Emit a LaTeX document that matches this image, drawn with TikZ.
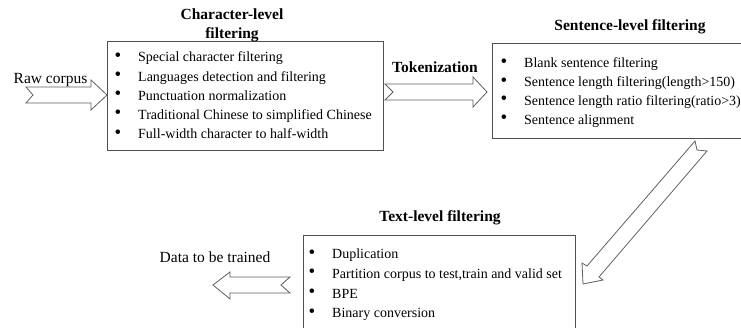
\documentclass[tikz,border=0pt]{standalone}
\usepackage{fontspec}
\setmainfont{Liberation Serif}
\definecolor{boxgray}{HTML}{505050}
\definecolor{arrowgray}{HTML}{606060}
\begin{document}
\begin{tikzpicture}[x=1pt,y=-1pt,
  box/.style={draw=boxgray, line width=1pt, inner sep=0pt, anchor=north west},
  item/.style={anchor=base west, inner sep=0pt, font=\fontsize{14}{17}\selectfont},
  dot/.style={anchor=center, inner sep=0pt, font=\fontsize{19}{17}\selectfont},
  heading/.style={anchor=base, inner sep=0pt, align=center, font=\fontsize{15.5}{19}\selectfont\bfseries},
  plain/.style={anchor=base, inner sep=0pt, font=\fontsize{15.5}{19}\selectfont},
  blockarrow/.style={draw=arrowgray, line width=0.8pt, fill=white, line join=miter}]
\useasboundingbox (0,0) rectangle (741,328);

% filter boxes
\node[box, minimum width=276, minimum height=109] (charbox) at (107,41) {};
\node[box, minimum width=253, minimum height=95] (sentbox) at (492,43) {};
\node[box, minimum width=272, minimum height=100] (textbox) at (303,235) {};

% headings and labels
\node[heading] (charhead) at (232,38.5) {Character-level\\filtering};
\node[heading] (senthead) at (630,30.5) {Sentence-level filtering};
\node[heading] (texthead) at (440,221.5) {Text-level filtering};
\node[heading] (tokhead) at (435,72.5) {Tokenization};
\node[plain] (raw) at (50.5,83.5) {Raw corpus};
\node[plain] (data) at (215,262.5) {Data to be trained};

% character-level items
\foreach \t [count=\i, evaluate=\i as \yb using 62+19.2*(\i-1)] in
  {Special character filtering,
   Languages detection and filtering,
   Punctuation normalization,
   Traditional Chinese to simplified Chinese,
   Full-width character to half-width}{
  \node[dot] (cb\i) at (118,\yb-5) {\textbullet};
  \node[item] (ci\i) at (138,\yb) {\t};
}

% sentence-level items
\foreach \t [count=\i, evaluate=\i as \yb using 68+18.8*(\i-1)] in
  {Blank sentence filtering,
   Sentence length filtering(length>150),
   Sentence length ratio filtering(ratio>3),
   Sentence alignment}{
  \node[dot] (sb\i) at (504,\yb-5) {\textbullet};
  \node[item] (si\i) at (524,\yb) {\t};
}

% text-level items
\foreach \t [count=\i, evaluate=\i as \yb using 259+19.6*(\i-1)] in
  {Duplication,
   {Partition corpus to test,train and valid set},
   BPE,
   Binary conversion}{
  \node[dot] (tb\i) at (312,\yb-5) {\textbullet};
  \node[item] (ti\i) at (332,\yb) {\t};
}

% block arrows
\draw[blockarrow] (26,87) -- (91,87) -- (91,80) -- (107,95) -- (91,110)
  -- (91,103) -- (26,103) -- (33,95) -- cycle;
\draw[blockarrow] (385,84) -- (473,84) -- (473,77) -- (487,92) -- (473,107)
  -- (473,100) -- (385,100) -- (393,92) -- cycle;
\draw[blockarrow] (695,141) -- (587,266) -- (582,263) -- (583,284) -- (603,280)
  -- (599,277) -- (707,151) -- (697,150) -- cycle;
\draw[blockarrow] (290,277) -- (230,277) -- (230,272) -- (213,285) -- (230,299)
  -- (230,293) -- (290,293) -- (281,285) -- cycle;
\end{tikzpicture}
\end{document}
